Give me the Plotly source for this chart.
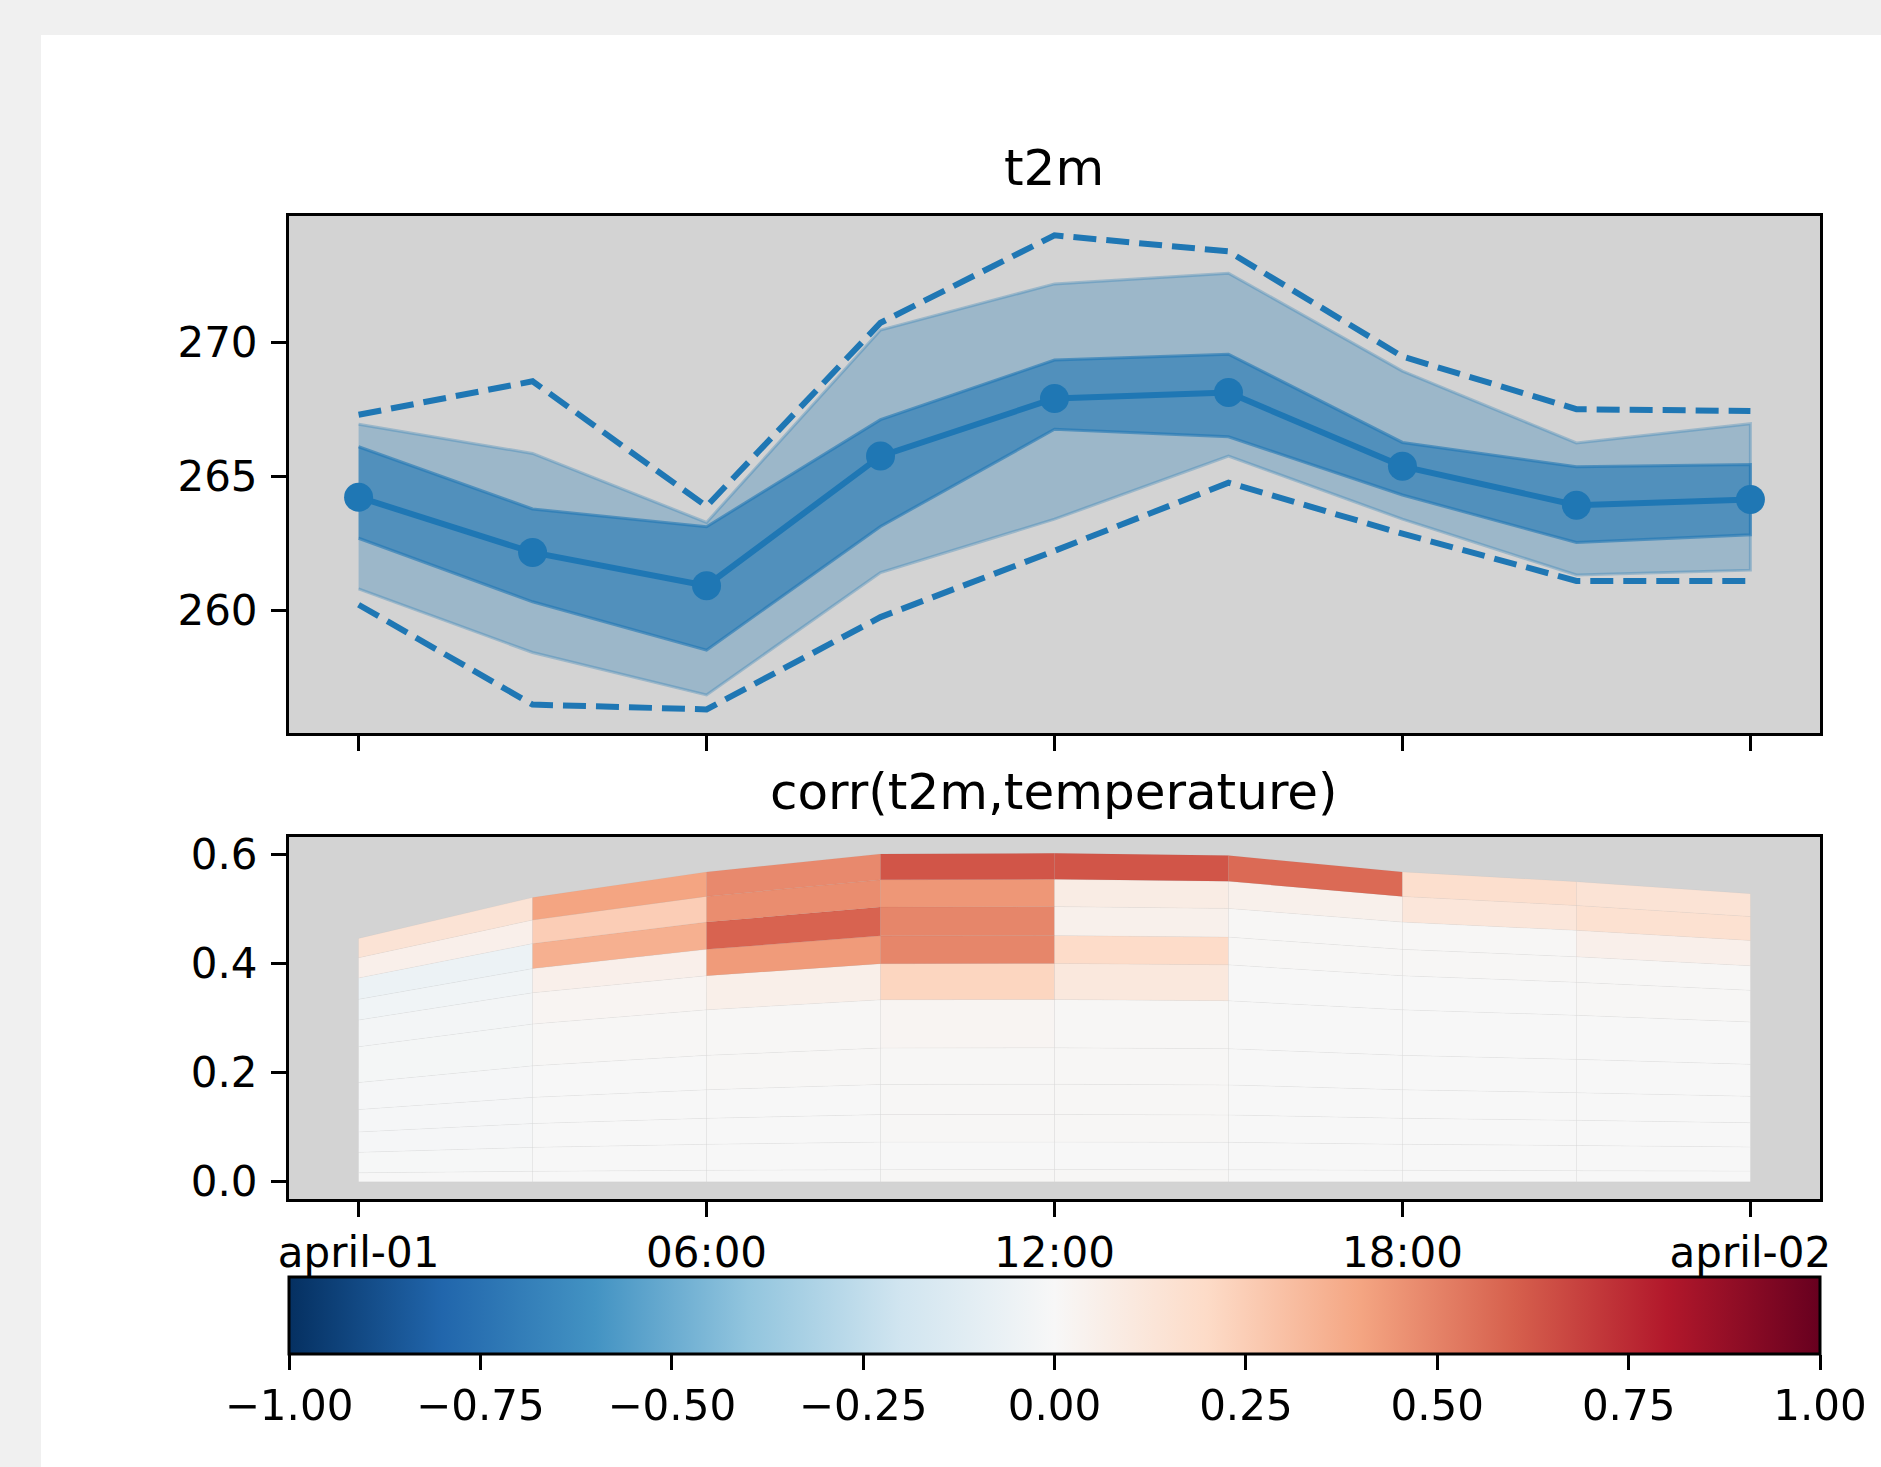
import plotly.graph_objects as go
from plotly.colors import sample_colorscale

# ---------------- data ----------------
hours = [0, 3, 6, 9, 12, 15, 18, 21, 24]
tick_hours = [0, 6, 12, 18, 24]
tick_labels = ["april-01", "06:00", "12:00", "18:00", "april-02"]

t2m_mean = [264.22, 262.16, 260.92, 265.75, 267.90, 268.12, 265.37, 263.92, 264.13]
t2m_q25 = [262.69, 260.32, 258.52, 263.13, 266.75, 266.47, 264.30, 262.53, 262.82]
t2m_q75 = [266.10, 263.78, 263.12, 267.11, 269.33, 269.55, 266.26, 265.35, 265.44]
t2m_q10 = [260.80, 258.43, 256.85, 261.41, 263.40, 265.75, 263.40, 261.32, 261.50]
t2m_q90 = [266.94, 265.85, 263.28, 270.45, 272.17, 272.57, 268.92, 266.24, 266.96]
t2m_min = [260.21, 256.49, 256.31, 259.75, 262.22, 264.76, 262.86, 261.10, 261.10]
t2m_max = [267.29, 268.54, 263.88, 270.72, 273.98, 273.38, 269.46, 267.50, 267.43]

# vertical mesh: column-edge top heights and level fractions (bottom -> top)
top_height = [0.446, 0.521, 0.568, 0.601, 0.602, 0.598, 0.568, 0.550, 0.528]
level_fraction = [0.0, 0.037, 0.121, 0.205, 0.297, 0.408, 0.555, 0.665, 0.750, 0.838, 0.921, 1.0]

# correlation per layer (rows bottom -> top) and per 3-hour column
corr = [
    [0.00, 0.00, 0.00, 0.01, 0.01, 0.00, 0.00, 0.00],
    [-0.005, 0.00, 0.00, 0.00, 0.00, 0.00, 0.00, 0.00],
    [-0.01, 0.00, 0.00, 0.01, 0.01, 0.00, 0.00, 0.00],
    [-0.01, 0.00, 0.00, 0.01, 0.01, 0.00, 0.00, 0.00],
    [-0.01, 0.00, 0.01, 0.01, 0.01, 0.00, 0.00, 0.00],
    [-0.015, 0.01, 0.01, 0.02, 0.01, 0.00, 0.00, 0.00],
    [-0.02, 0.02, 0.06, 0.22, 0.11, 0.00, 0.00, 0.01],
    [-0.035, 0.055, 0.43, 0.49, 0.19, 0.01, 0.01, 0.01],
    [-0.06, 0.36, 0.59, 0.49, 0.05, 0.01, 0.01, 0.055],
    [0.055, 0.25, 0.47, 0.44, 0.08, 0.05, 0.12, 0.16],
    [0.14, 0.40, 0.48, 0.63, 0.63, 0.57, 0.17, 0.14],
]

cbar_ticks = [-1.0, -0.75, -0.5, -0.25, 0.0, 0.25, 0.5, 0.75, 1.0]

RDBU_R = [
    [0.0, "rgb(5,48,97)"], [0.1, "rgb(33,102,172)"], [0.2, "rgb(67,147,195)"],
    [0.3, "rgb(146,197,222)"], [0.4, "rgb(209,229,240)"], [0.5, "rgb(247,247,247)"],
    [0.6, "rgb(253,219,199)"], [0.7, "rgb(244,165,130)"], [0.8, "rgb(214,96,77)"],
    [0.9, "rgb(178,24,43)"], [1.0, "rgb(103,0,31)"],
]

# ---------------- layout geometry ----------------
W, H = 1881, 1467
FONT = "DejaVu Sans"
TICK_FS = 42
TITLE_FS = 50
BLUE = "#1f77b4"


def px_x(p):
    return p / W


def px_y(p):
    return 1 - p / H


fig = go.Figure()

# ---- top panel: t2m ----
light = "rgba(31,119,180,0.3)"
dark = "rgba(31,119,180,0.6)"
fig.add_trace(go.Scatter(
    x=hours + hours[::-1], y=t2m_q90 + t2m_q10[::-1], fill="toself",
    fillcolor=light, line=dict(color=light, width=3), mode="lines",
    xaxis="x", yaxis="y", hoverinfo="skip", showlegend=False))
fig.add_trace(go.Scatter(
    x=hours + hours[::-1], y=t2m_q75 + t2m_q25[::-1], fill="toself",
    fillcolor=dark, line=dict(color=dark, width=3), mode="lines",
    xaxis="x", yaxis="y", hoverinfo="skip", showlegend=False))
for series in (t2m_max, t2m_min):
    fig.add_trace(go.Scatter(
        x=hours, y=series, mode="lines",
        line=dict(color=BLUE, width=6, dash="23px,10px"),
        xaxis="x", yaxis="y", showlegend=False))
fig.add_trace(go.Scatter(
    x=hours, y=t2m_mean, mode="lines+markers",
    line=dict(color=BLUE, width=6), marker=dict(color=BLUE, size=29),
    xaxis="x", yaxis="y", showlegend=False))

# ---- bottom panel: correlation mesh ----
n_cols = len(hours) - 1
n_lev = len(level_fraction) - 1
for k in range(n_lev):
    for j in range(n_cols):
        v = corr[k][j]
        col = sample_colorscale(RDBU_R, [(v + 1) / 2])[0]
        xs = [hours[j], hours[j + 1], hours[j + 1], hours[j], hours[j]]
        ys = [top_height[j] * level_fraction[k],
              top_height[j + 1] * level_fraction[k],
              top_height[j + 1] * level_fraction[k + 1],
              top_height[j] * level_fraction[k + 1],
              top_height[j] * level_fraction[k]]
        fig.add_trace(go.Scatter(
            x=xs, y=ys, fill="toself", fillcolor=col, mode="lines",
            line=dict(color="rgba(0,0,0,0.022)", width=1),
            xaxis="x2", yaxis="y2", hoverinfo="skip", showlegend=False))

# invisible trace carrying the colorbar
cx, cy, cv = [], [], []
for k in range(n_lev):
    for j in range(n_cols):
        cx.append((hours[j] + hours[j + 1]) / 2)
        cy.append((top_height[j] + top_height[j + 1]) / 2
                  * (level_fraction[k] + level_fraction[k + 1]) / 2)
        cv.append(corr[k][j])

fig.add_trace(go.Scatter(
    x=cx, y=cy, mode="markers", xaxis="x2", yaxis="y2", hoverinfo="skip",
    showlegend=False, opacity=0,
    marker=dict(size=1, color=cv, colorscale=RDBU_R, cmin=-1, cmax=1,
                showscale=True,
                colorbar=dict(
                    orientation="h", x=px_x((289 + 1820) / 2), xanchor="center",
                    y=px_y(1277), yanchor="top", len=(1820 - 289) / W,
                    lenmode="fraction", thickness=77, thicknessmode="pixels",
                    outlinewidth=3, outlinecolor="black", xpad=0, ypad=0,
                    tickmode="array", tickvals=cbar_ticks,
                    ticktext=[f"{t:.2f}".replace("-", "\u2212") for t in cbar_ticks],
                    ticks="outside", ticklen=15, tickwidth=3, tickcolor="black",
                    tickfont=dict(family=FONT, size=TICK_FS, color="black"),
                ))))

axis_common = dict(showgrid=False, zeroline=False, showline=True, linecolor="black",
                   linewidth=3, mirror=True, ticks="outside", ticklen=15,
                   tickwidth=3, tickcolor="black", automargin=False,
                   tickfont=dict(family=FONT, size=TICK_FS, color="black"))

fig.update_layout(
    width=W, height=H, margin=dict(l=0, r=0, t=0, b=0, autoexpand=False),
    paper_bgcolor="white", plot_bgcolor="#d3d3d3",
    font=dict(family=FONT, color="black"),
    showlegend=False,
    xaxis=dict(domain=[px_x(289), px_x(1820)], anchor="y", range=[-1.2, 25.2],
               tickmode="array", tickvals=tick_hours, showticklabels=False,
               **axis_common),
    yaxis=dict(domain=[px_y(733), px_y(216)], anchor="x", range=[255.43, 274.70],
               tickmode="array", tickvals=[260, 265, 270], ticklabelstandoff=5,
               **axis_common),
    xaxis2=dict(domain=[px_x(289), px_x(1820)], anchor="y2", range=[-1.2, 25.2],
                tickmode="array", tickvals=tick_hours, ticktext=tick_labels,
                **axis_common),
    yaxis2=dict(domain=[px_y(1199), px_y(837)], anchor="x2", range=[-0.0316, 0.632],
                tickmode="array", tickvals=[0.0, 0.2, 0.4, 0.6],
                ticktext=["0.0", "0.2", "0.4", "0.6"], ticklabelstandoff=5,
                **axis_common),
    annotations=[
        dict(text="t2m", x=px_x(1054), y=px_y(168), xref="paper", yref="paper",
             xanchor="center", yanchor="middle", showarrow=False,
             font=dict(family=FONT, size=TITLE_FS, color="black")),
        dict(text="corr(t2m,temperature)", x=px_x(1054), y=px_y(792),
             xref="paper", yref="paper", xanchor="center", yanchor="middle",
             showarrow=False, font=dict(family=FONT, size=TITLE_FS, color="black")),
    ],
    shapes=[
        dict(type="rect", xref="paper", yref="paper", x0=0, x1=1, y0=px_y(35), y1=1,
             fillcolor="#f0f0f0", line=dict(width=0), layer="above"),
        dict(type="rect", xref="paper", yref="paper", x0=0, x1=px_x(41), y0=0, y1=1,
             fillcolor="#f0f0f0", line=dict(width=0), layer="above"),
    ],
)

fig.write_html(
    "out.html",
    config={"displayModeBar": False},
    post_script="document.body.style.margin='0';document.body.style.overflow='hidden';"
                "document.documentElement.style.overflow='hidden';",
)
